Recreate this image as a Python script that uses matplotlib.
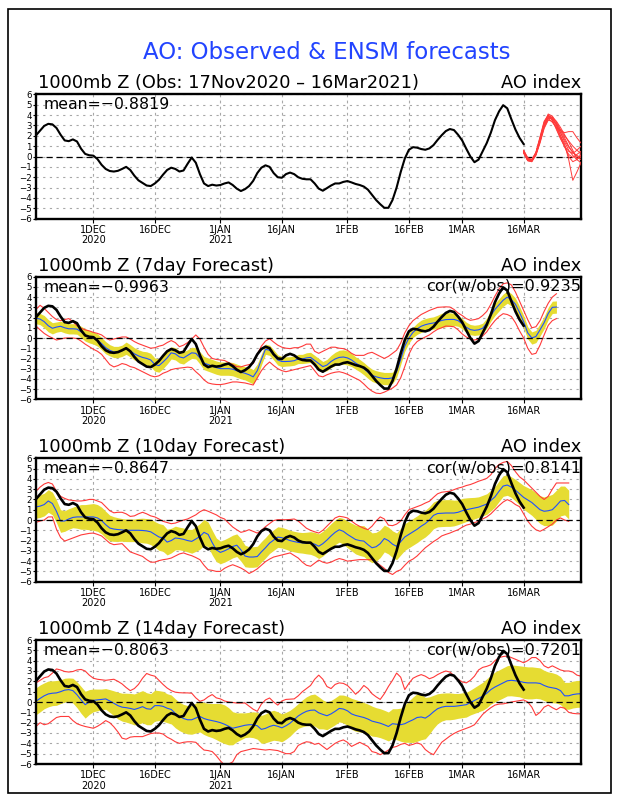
import numpy as np
import pandas as pd
import matplotlib
matplotlib.use('Agg')
import matplotlib.pyplot as plt
from matplotlib.patches import Rectangle

# ---------------- data ----------------
start_date = '2020-11-17'
end_date = '2021-03-30'
ens_start = '2021-03-16'

obs = [2.04, 2.5, 2.95, 3.15, 3.1, 2.75, 2.1, 1.55, 1.48, 1.65,
       1.45, 0.75, 0.25, 0.12, 0.08, -0.25, -0.8, -1.2, -1.4, -1.45,
       -1.38, -1.2, -1.0, -1.3, -1.85, -2.3, -2.55, -2.8, -2.85, -2.6,
       -2.25, -1.75, -1.3, -1.08, -1.2, -1.45, -1.35, -0.7, -0.1, -0.6,
       -1.7, -2.6, -2.85, -2.72, -2.8, -2.75, -2.6, -2.5, -2.75, -3.1,
       -3.33, -3.15, -2.85, -2.35, -1.6, -1.08, -0.85, -1.0, -1.6, -2.0,
       -2.05, -1.7, -1.55, -1.7, -2.0, -2.15, -2.2, -2.2, -2.6, -3.1,
       -3.3, -3.05, -2.8, -2.6, -2.6, -2.45, -2.37, -2.5, -2.65, -2.75,
       -2.9, -3.2, -3.7, -4.2, -4.6, -4.95, -4.95, -4.2, -3.0, -1.5,
       -0.2, 0.65, 0.9, 0.85, 0.72, 0.65, 0.78, 1.1, 1.6, 2.05,
       2.45, 2.65, 2.55, 2.1, 1.55, 0.75, 0.0, -0.55, -0.3, 0.5,
       1.3, 2.3, 3.5, 4.35, 4.95, 4.65, 3.6, 2.6, 1.8, 1.2]

ens_m1 = [0.5, -0.3, -0.4, 0.2, 1.5, 3.0, 4.0, 3.7, 3.0, 2.3, 1.6, 0.9, 0.4, 0.1, -0.1]
ens_m2 = [0.4, -0.4, -0.5, 0.3, 1.7, 3.2, 4.1, 3.9, 3.3, 2.6, 2.0, 1.5, 1.0, 0.6, 0.3]
ens_m3 = [0.6, -0.2, -0.3, 0.4, 1.8, 3.3, 3.9, 3.5, 2.7, 1.8, 0.9, 0.2, -0.1, 0.2, 0.5]
ens_m4 = [0.5, -0.3, -0.4, 0.2, 1.4, 2.8, 3.6, 3.8, 3.4, 2.8, 2.1, 1.4, 0.6, -0.3, -0.6]
ens_m5 = [0.3, -0.4, -0.5, 0.1, 1.3, 2.7, 3.5, 3.4, 2.8, 2.0, 1.2, -0.3, -2.3, -1.5, -0.6]
ens_m6 = [0.5, -0.2, -0.3, 0.3, 1.6, 3.0, 3.7, 3.3, 2.8, 2.5, 2.3, 2.4, 2.4, 1.8, 1.3]
ens_m7 = [0.4, -0.3, -0.4, 0.3, 1.7, 3.1, 3.8, 3.6, 3.1, 2.3, 1.4, 0.6, 0.1, -0.3, 0.1]
ens_m8 = [0.5, -0.3, -0.3, 0.4, 1.9, 3.4, 4.0, 3.5, 2.6, 1.7, 1.0, 0.5, 0.3, 0.6, 1.0]
ens_m9 = [0.6, -0.1, -0.3, 0.2, 1.5, 2.9, 3.7, 3.7, 3.2, 2.5, 1.8, 1.0, 0.4, 0.0, -0.3]
ens_m10 = [0.4, -0.4, -0.4, 0.3, 1.6, 3.1, 3.9, 3.8, 3.0, 2.0, 1.0, 0.0, -0.5, -0.3, 0.2]

fc7_mean = [1.95, 1.85, 1.6, 1.2, 0.95, 1.07, 1.15, 1.0, 0.9, 0.9,
            0.87, 0.6, 0.3, 0.12, 0.0, -0.2, -0.55, -0.95, -1.2, -1.37,
            -1.37, -1.25, -1.0, -1.25, -1.55, -1.75, -1.9, -2.0, -2.15, -2.6,
            -2.7, -2.35, -1.95, -1.45, -1.55, -1.85, -1.95, -1.7, -1.45, -1.5,
            -1.95, -2.45, -2.6, -2.75, -2.9, -3.0, -3.0, -3.0, -3.05, -3.2,
            -3.35, -3.45, -3.6, -3.8, -3.2, -2.1, -1.1, -1.2, -1.65, -2.15,
            -2.3, -2.3, -2.28, -2.22, -2.05, -2.05, -1.95, -1.9, -2.2, -2.5,
            -2.8, -2.65, -2.3, -2.05, -1.9, -1.86, -1.95, -2.15, -2.45, -2.7,
            -3.0, -3.35, -3.65, -3.8, -3.9, -3.97, -3.97, -3.9, -3.3, -2.1,
            -0.8, 0.0, 0.55, 0.9, 1.15, 1.3, 1.4, 1.47, 1.58, 1.72,
            1.8, 1.82, 1.82, 1.7, 1.4, 1.05, 0.82, 0.75, 0.8, 0.95,
            1.45, 2.2, 2.8, 3.25, 3.7, 4.0, 3.75, 3.3, 2.5, 1.6,
            0.5, 0.0, 0.15, 0.8, 1.5, 2.4, 3.0, 3.03]
fc7_spread = [0.55, 0.55, 0.6, 0.6, 0.55, 0.5, 0.5, 0.5, 0.5, 0.5,
              0.5, 0.55, 0.6, 0.6, 0.6, 0.6, 0.6, 0.6, 0.55, 0.55,
              0.55, 0.55, 0.6, 0.6, 0.6, 0.6, 0.6, 0.65, 0.65, 0.65,
              0.65, 0.65, 0.6, 0.6, 0.6, 0.6, 0.6, 0.55, 0.55, 0.55,
              0.6, 0.65, 0.65, 0.65, 0.65, 0.65, 0.65, 0.65, 0.65, 0.65,
              0.65, 0.65, 0.7, 0.7, 0.65, 0.55, 0.5, 0.5, 0.5, 0.5,
              0.5, 0.45, 0.45, 0.45, 0.45, 0.45, 0.5, 0.5, 0.5, 0.5,
              0.5, 0.55, 0.6, 0.65, 0.7, 0.7, 0.7, 0.65, 0.6, 0.6,
              0.6, 0.6, 0.6, 0.6, 0.6, 0.6, 0.6, 0.55, 0.55, 0.5,
              0.5, 0.5, 0.5, 0.55, 0.6, 0.6, 0.6, 0.6, 0.65, 0.7,
              0.7, 0.65, 0.6, 0.55, 0.5, 0.5, 0.5, 0.5, 0.5, 0.5,
              0.5, 0.55, 0.6, 0.6, 0.6, 0.6, 0.6, 0.6, 0.6, 0.6,
              0.6, 0.6, 0.6, 0.6, 0.6, 0.6, 0.6, 0.6]
fc7_max = [2.8, 3.2, 2.9, 2.5, 2.1, 1.8, 1.7, 1.8, 1.9, 1.6,
           1.2, 0.95, 0.8, 0.7, 0.55, 0.45, 0.3, 0.0, -0.2, -0.1,
           0.0, 0.1, 0.1, -0.1, -0.35, -0.55, -0.7, -0.85, -1.0, -0.95,
           -0.8, -0.7, -0.45, -0.25, -0.45, -0.85, -0.7, -0.45, -0.1, 0.3,
           -0.1, -0.9, -1.6, -2.0, -2.1, -2.15, -2.2, -2.4, -2.6, -2.8,
           -2.83, -2.7, -2.6, -2.5, -1.6, -0.8, -0.3, -0.07, -0.4, -0.7,
           -0.9, -1.0, -1.04, -0.95, -0.95, -0.8, -0.6, -0.6, -1.3, -1.5,
           -1.3, -1.1, -0.9, -0.9, -1.0, -1.04, -1.2, -1.5, -1.7, -1.7,
           -1.7, -1.5, -1.4, -1.6, -1.8, -2.0, -1.8, -1.5, -1.2, -0.5,
           0.5, 1.2, 1.7, 2.0, 2.3, 2.5, 2.7, 2.85, 3.0, 3.03,
           3.05, 3.03, 2.8, 2.45, 2.2, 1.9, 1.73, 1.8, 1.9, 2.2,
           2.6, 3.3, 4.1, 4.8, 5.3, 5.4, 5.2, 4.5, 3.6, 2.7,
           1.8, 1.0, 1.1, 1.7, 2.6, 3.4, 4.0, 4.33]
fc7_min = [1.17, 0.8, 0.45, 0.2, 0.0, -0.2, -0.1, 0.0, 0.0, 0.0,
           -0.05, -0.3, -0.6, -0.85, -1.1, -1.3, -1.6, -2.1, -2.6, -2.83,
           -2.7, -2.5, -2.6, -2.8, -2.9, -3.1, -3.3, -3.5, -3.7, -3.8,
           -3.7, -3.45, -3.3, -3.1, -3.0, -2.95, -2.9, -2.85, -2.9, -3.3,
           -3.65, -4.1, -4.4, -4.5, -4.55, -4.56, -4.5, -4.4, -4.3, -4.3,
           -4.35, -4.4, -4.5, -4.6, -3.9, -3.2, -2.7, -2.35, -2.7, -3.0,
           -3.2, -3.3, -3.2, -3.1, -3.0, -2.9, -2.8, -2.7, -3.2, -3.7,
           -3.8, -3.6, -3.45, -3.35, -3.3, -3.4, -3.55, -3.75, -3.95, -4.15,
           -4.5, -4.9, -5.2, -5.4, -5.44, -5.3, -5.1, -4.9, -4.6, -3.9,
           -2.8, -1.6, -0.8, -0.35, -0.1, 0.1, 0.3, 0.6, 0.85, 1.0,
           1.17, 1.15, 1.1, 0.8, 0.4, 0.1, -0.1, -0.2, -0.1, 0.2,
           0.6, 1.2, 1.7, 2.1, 2.38, 2.3, 2.1, 1.5, 0.7, 0.0,
           -1.0, -1.6, -1.5, -0.7, 0.3, 1.24, 1.7, 1.9]

fc10_mean = [1.27, 1.35, 1.5, 1.85, 1.6, 0.84, -0.1, -0.1, 0.1, 0.25,
             0.3, 0.3, 0.3, 0.3, 0.3, 0.2, -0.05, -0.45, -0.78, -0.88,
             -0.93, -0.96, -1.0, -1.0, -1.0, -1.0, -1.02, -1.06, -1.15, -1.4,
             -1.65, -1.75, -2.15, -2.0, -1.75, -1.8, -1.88, -2.0, -2.08, -1.85,
             -1.6, -1.2, -1.4, -2.2, -2.9, -3.15, -3.0, -2.8, -2.58, -2.45,
             -2.9, -3.5, -3.6, -3.6, -3.55, -3.1, -2.7, -2.25, -1.95, -1.66,
             -1.72, -1.85, -2.0, -2.1, -2.18, -2.22, -2.24, -2.24, -2.35, -2.55,
             -2.3, -1.95, -1.55, -1.2, -0.95, -1.1, -1.4, -1.65, -1.9, -2.0,
             -2.05, -2.4, -2.7, -2.6, -2.3, -1.8, -2.0, -2.35, -2.56, -2.1,
             -1.65, -1.4, -1.15, -0.9, -0.6, -0.35, 0.0, 0.45, 0.63, 0.66,
             0.68, 0.68, 0.68, 0.75, 0.9, 1.0, 1.08, 1.15, 1.25, 1.4,
             1.55, 1.9, 2.25, 2.8, 3.3, 3.4, 3.2, 2.9, 2.55, 2.2,
             1.95, 1.7, 1.35, 1.0, 0.85, 0.9, 1.0, 1.4, 1.85, 1.9,
             1.5]
fc10_spread = [1.1, 1.1, 1.1, 1.1, 1.1, 1.1, 1.1, 1.0, 1.0, 1.0,
               1.1, 1.2, 1.2, 1.25, 1.3, 1.3, 1.3, 1.3, 1.25, 1.2,
               1.15, 1.1, 1.1, 1.1, 1.1, 1.15, 1.2, 1.2, 1.25, 1.25,
               1.3, 1.3, 1.25, 1.2, 1.15, 1.1, 1.1, 1.1, 1.15, 1.2,
               1.25, 1.25, 1.2, 1.2, 1.15, 1.1, 1.1, 1.1, 1.1, 1.1,
               1.1, 1.05, 1.0, 1.0, 1.0, 1.0, 1.0, 1.0, 1.0, 1.0,
               1.0, 1.0, 1.0, 1.0, 1.0, 1.0, 1.05, 1.1, 1.15, 1.2,
               1.2, 1.2, 1.2, 1.2, 1.2, 1.25, 1.3, 1.35, 1.4, 1.45,
               1.5, 1.5, 1.45, 1.4, 1.35, 1.3, 1.3, 1.3, 1.3, 1.3,
               1.3, 1.3, 1.3, 1.3, 1.3, 1.3, 1.3, 1.3, 1.3, 1.3,
               1.3, 1.3, 1.25, 1.2, 1.2, 1.15, 1.1, 1.05, 1.0, 1.0,
               1.0, 1.0, 1.0, 1.0, 1.0, 1.0, 1.0, 1.05, 1.1, 1.15,
               1.2, 1.25, 1.3, 1.35, 1.4, 1.45, 1.5, 1.5, 1.45, 1.4,
               1.4]
fc10_max = [2.8, 3.2, 3.5, 3.65, 3.5, 2.8, 2.3, 2.1, 1.95, 1.9,
            1.85, 1.85, 1.9, 2.0, 2.0, 1.85, 1.7, 1.3, 0.9, 0.7,
            0.75, 0.75, 0.6, 0.35, 0.4, 0.6, 0.75, 0.6, 0.4, 0.3,
            0.1, -0.13, -0.25, -0.36, -0.3, -0.15, 0.0, 0.1, 0.3, 0.5,
            0.8, 1.0, 0.85, 0.68, 0.5, 0.25, 0.1, -0.3, -0.68, -0.95,
            -1.2, -1.1, -0.94, -1.1, -1.27, -1.0, -0.65, -0.35, -0.05, 0.03,
            0.03, 0.03, 0.05, 0.1, -0.1, -0.45, -0.8, -1.0, -1.15, -1.27,
            -1.0, -0.6, -0.2, 0.2, 0.36, 0.3, 0.2, -0.1, -0.4, -0.62,
            -0.8, -0.94, -0.6, -0.1, 0.3, 0.1, -0.5, -0.55, -0.4, -0.1,
            0.5, 1.0, 1.15, 1.3, 1.45, 1.65, 1.82, 2.2, 2.55, 2.7,
            2.75, 2.8, 2.95, 3.1, 3.2, 3.35, 3.45, 3.6, 3.77, 3.9,
            4.05, 4.4, 5.0, 5.4, 5.6, 5.7, 5.3, 4.7, 4.2, 3.9,
            3.5, 3.1, 2.7, 2.3, 2.0, 2.3, 3.0, 3.6, 3.6, 3.6,
            3.6]
fc10_min = [-0.23, -0.1, 0.0, 0.3, 0.3, -0.9, -1.7, -2.05, -1.9, -1.75,
            -1.6, -1.45, -1.38, -1.3, -1.27, -1.4, -1.55, -1.9, -2.25, -2.4,
            -2.35, -2.3, -2.7, -3.1, -3.25, -3.4, -3.54, -3.85, -4.1, -4.1,
            -3.95, -3.86, -3.8, -3.7, -3.5, -3.3, -3.2, -3.35, -3.47, -3.65,
            -3.86, -4.4, -4.84, -4.9, -5.0, -5.0, -4.7, -4.5, -4.35, -4.5,
            -4.67, -4.9, -5.2, -5.0, -4.75, -4.4, -4.05, -3.8, -3.6, -3.5,
            -3.4, -3.3, -3.2, -3.45, -3.7, -4.1, -4.4, -4.5, -4.2, -3.9,
            -4.1, -4.2, -4.1, -3.9, -3.75, -3.85, -4.0, -3.95, -3.9, -3.85,
            -3.86, -3.86, -3.86, -4.1, -4.4, -4.7, -5.1, -5.3, -5.0, -4.84,
            -4.4, -4.0, -3.8, -3.5, -3.1, -2.7, -2.4, -2.1, -1.85, -1.55,
            -1.4, -1.27, -1.1, -0.95, -0.7, -0.5, -0.4, -0.25, -0.13, 0.1,
            0.3, 0.6, 1.0, 1.4, 1.75, 1.98, 1.8, 1.5, 1.3, 0.6,
            -0.1, -0.6, -0.95, -1.1, -0.9, -0.65, -0.4, 0.0, 0.2, 0.0,
            -0.13]

fc14_mean = [0.07, 0.35, 0.6, 0.78, 0.85, 0.88, 1.0, 1.15, 1.2, 1.1,
             0.7, 0.2, -0.26, 0.0, 0.16, 0.2, 0.25, 0.3, 0.1, -0.12,
             -0.35, -0.5, -0.55, -0.62, -0.72, -0.6, -0.45, -0.65, -0.7, -0.35,
             -0.35, -0.42, -0.6, -0.72, -1.1, -1.4, -1.6, -1.72, -1.72, -1.55,
             -1.4, -1.6, -1.72, -1.8, -1.89, -2.0, -2.15, -2.35, -2.54, -2.45,
             -2.35, -2.25, -2.2, -2.2, -2.3, -2.65, -2.55, -2.37, -2.25, -2.35,
             -2.5, -2.3, -2.05, -1.7, -1.35, -1.1, -0.9, -0.8, -0.78, -1.05,
             -1.2, -1.33, -1.15, -0.9, -0.62, -0.68, -0.85, -1.15, -1.3, -1.4,
             -1.5, -1.65, -1.85, -1.95, -2.05, -2.2, -2.37, -2.1, -2.15, -2.2,
             -2.1, -1.9, -1.72, -1.5, -1.45, -1.56, -1.3, -0.95, -0.65, -0.5,
             -0.42, -0.42, -0.42, -0.38, -0.32, -0.26, -0.05, 0.15, 0.35, 0.55,
             0.85, 1.2, 1.45, 1.65, 1.85, 2.05, 2.1, 2.05, 2.0, 1.9,
             1.85, 1.85, 1.85, 1.8, 1.6, 1.45, 1.38, 1.3, 1.1, 0.6,
             0.6, 0.72, 0.78, 0.8]
fc14_spread = [1.3, 1.3, 1.25, 1.25, 1.2, 1.2, 1.15, 1.15, 1.13, 1.2,
               1.25, 1.3, 1.3, 1.2, 1.1, 1.05, 1.0, 1.0, 1.1, 1.2,
               1.3, 1.35, 1.4, 1.45, 1.5, 1.55, 1.55, 1.55, 1.5, 1.5,
               1.45, 1.45, 1.4, 1.4, 1.4, 1.37, 1.37, 1.37, 1.4, 1.45,
               1.5, 1.55, 1.6, 1.65, 1.75, 1.85, 1.87, 1.8, 1.6, 1.4,
               1.3, 1.2, 1.2, 1.25, 1.3, 1.35, 1.4, 1.45, 1.45, 1.4,
               1.35, 1.3, 1.25, 1.2, 1.2, 1.3, 1.4, 1.5, 1.55, 1.55,
               1.4, 1.35, 1.3, 1.3, 1.3, 1.35, 1.4, 1.5, 1.53, 1.5,
               1.45, 1.45, 1.45, 1.4, 1.4, 1.4, 1.4, 1.45, 1.5, 1.6,
               1.8, 2.0, 2.2, 2.3, 2.2, 2.0, 1.8, 1.6, 1.45, 1.35,
               1.3, 1.3, 1.25, 1.2, 1.2, 1.2, 1.2, 1.25, 1.3, 1.35,
               1.4, 1.4, 1.45, 1.45, 1.46, 1.46, 1.5, 1.5, 1.5, 1.55,
               1.55, 1.55, 1.5, 1.5, 1.46, 1.46, 1.45, 1.4, 1.35, 1.3,
               1.3, 1.3, 1.3, 1.3]
fc14_max = [1.85, 2.1, 2.35, 2.45, 2.8, 3.2, 3.1, 2.95, 2.9, 2.95,
            3.1, 3.15, 3.0, 2.6, 2.3, 2.2, 2.15, 2.1, 2.15, 2.2,
            2.0, 1.75, 1.4, 1.1, 1.3, 1.7, 2.3, 2.76, 2.6, 2.5,
            2.1, 1.7, 1.35, 1.1, 0.95, 0.9, 0.88, 0.88, 0.85, 0.4,
            0.07, 0.2, 0.5, 0.72, 0.4, 0.3, 0.1, 0.0, -0.05, -0.1,
            -0.1, -0.1, -0.4, -0.7, -0.9, -0.2, 0.2, 0.39, 0.0, -0.3,
            0.1, 0.25, 0.28, 0.3, 0.6, 1.0, 1.3, 1.6, 2.2, 2.6,
            2.2, 1.5, 1.3, 1.7, 1.85, 1.8, 1.6, 1.2, 0.75, 1.1,
            1.6, 1.3, 0.8, 0.5, 0.25, 0.8, 1.5, 2.1, 2.8, 2.4,
            1.2, 1.8, 2.3, 2.5, 2.65, 2.5, 2.25, 2.4, 2.65, 2.85,
            3.0, 2.9, 2.55, 2.2, 1.95, 1.85, 2.1, 2.5, 3.1, 3.35,
            3.45, 3.6, 4.0, 4.3, 4.4, 4.45, 4.3, 4.13, 3.95, 3.8,
            4.0, 4.3, 4.3, 4.0, 3.5, 3.3, 3.5, 3.3, 3.1, 3.0,
            3.0, 2.9, 2.6, 2.5]
fc14_min = [-2.37, -2.0, -2.2, -2.1, -1.8, -1.5, -1.4, -1.4, -1.4, -1.8,
            -2.1, -2.25, -2.37, -2.45, -2.54, -2.35, -2.1, -1.8, -2.0, -2.4,
            -2.9, -3.5, -3.6, -3.4, -3.35, -3.35, -3.35, -3.2, -3.05, -3.0,
            -3.0, -3.1, -3.4, -3.6, -3.85, -4.0, -3.9, -3.85, -3.85, -3.9,
            -4.3, -4.65, -4.7, -4.8, -5.2, -5.7, -6.1, -6.0, -5.8, -5.1,
            -4.8, -4.7, -4.6, -4.5, -4.55, -4.6, -4.65, -4.6, -4.65, -4.7,
            -4.85, -5.0, -5.0, -4.8, -4.2, -4.0, -3.85, -3.9, -4.1, -4.0,
            -4.3, -4.6, -4.3, -4.0, -3.8, -3.67, -3.9, -4.3, -4.1, -3.9,
            -4.1, -4.3, -4.8, -4.9, -5.1, -4.9, -4.65, -4.4, -4.3, -4.1,
            -4.0, -4.2, -4.1, -3.95, -4.1, -4.6, -4.9, -5.1, -4.5, -3.9,
            -3.6, -3.3, -3.05, -2.85, -2.7, -2.54, -2.4, -2.2, -1.7, -1.2,
            -0.85, -0.55, -0.3, -0.2, -0.18, -0.1, 0.0, 0.07, 0.15, 0.2,
            0.0, -0.5, -1.3, -1.0, -0.5, -0.3, -0.55, -0.75, -0.5, -0.6,
            -1.0, -1.1, -1.14, -1.14]

panel_titles = ['1000mb Z (Obs: 17Nov2020 \u2013 16Mar2021)',
                '1000mb Z (7day Forecast)',
                '1000mb Z (10day Forecast)',
                '1000mb Z (14day Forecast)']
mean_labels = ['mean=\u22120.8819', 'mean=\u22120.9963', 'mean=\u22120.8647', 'mean=\u22120.8063']
cor_labels = [None, 'cor(w/obs)=0.9235', 'cor(w/obs)=0.8141', 'cor(w/obs)=0.7201']
right_label = 'AO index'
main_title = 'AO: Observed & ENSM forecasts'
ytick_vals = list(range(-6, 7))
xtick_dates = ['2020-12-01', '2020-12-16', '2021-01-01', '2021-01-16',
               '2021-02-01', '2021-02-16', '2021-03-01', '2021-03-16']
xtick_labels = ['1DEC\n2020', '16DEC', '1JAN\n2021', '16JAN',
                '1FEB', '16FEB', '1MAR', '16MAR']

# ---------------- styling ----------------
W, H = 618, 800
DPI = 100
BLUE_TITLE = '#2244ff'
YELLOW = '#e6dc32'
RED = '#ff3a3a'
MEAN_BLUE = '#1f4fff'
GRID = '#a8a8a8'
FONT = 'DejaVu Sans'

def dates(n, start=start_date):
    return pd.date_range(start, periods=n, freq='D')

fig = plt.figure(figsize=(W / DPI, H / DPI), dpi=DPI)
fig.patch.set_facecolor('white')
fig.add_artist(Rectangle((8 / W, 1 - 793 / H), (611 - 8) / W, (793 - 9) / H,
                         transform=fig.transFigure, fill=False, lw=1.2, ec='black'))

fig.text(327 / W, 1 - 52.5 / H, main_title, color=BLUE_TITLE, fontsize=16.5,
         ha='center', va='center', family=FONT)

# axes pixel boxes: (top, bottom)
boxes = [(94.3, 218.7), (276.7, 399.3), (458.3, 581.7), (640.0, 764.0)]
left_px, right_px = 36.0, 581.0

xt = pd.to_datetime(xtick_dates)

def style(ax, idx):
    ax.set_xlim(pd.Timestamp(start_date), pd.Timestamp(end_date))
    ax.set_ylim(-6, 6)
    for v in ytick_vals:
        ax.axhline(v, color=GRID, lw=0.8, ls=(0, (2, 4)), zorder=0.5)
    for d in xt:
        ax.axvline(d, color=GRID, lw=0.8, ls=(0, (2.5, 3)), zorder=0.5)
    ax.axhline(0, color='black', lw=0.9, ls=(0, (5, 3)), zorder=3)
    ax.set_yticks(ytick_vals)
    ax.set_yticklabels([str(v).replace('-', '\u2212') for v in ytick_vals],
                       fontsize=6.2, family=FONT)
    ax.set_xticks(xt)
    ax.set_xticklabels(xtick_labels, fontsize=7, family=FONT, linespacing=1.05)
    ax.tick_params(axis='y', direction='out', length=2, width=0.8, pad=1)
    ax.tick_params(axis='x', direction='out', length=3, width=0.8, pad=1.5)
    for sp in ax.spines.values():
        sp.set_linewidth(1.7)
    ax.annotate(panel_titles[idx], xy=(0, 1), xycoords='axes fraction',
                xytext=(1.5, 8), textcoords='offset points', fontsize=12.8,
                ha='left', va='center', family=FONT)
    ax.annotate(right_label, xy=(1, 1), xycoords='axes fraction',
                xytext=(0, 8), textcoords='offset points', fontsize=12.8,
                ha='right', va='center', family=FONT)
    ax.annotate(mean_labels[idx], xy=(0, 1), xycoords='axes fraction',
                xytext=(5.5, -7.5), textcoords='offset points', fontsize=11.3,
                ha='left', va='center', family=FONT, zorder=6)
    if cor_labels[idx]:
        ax.annotate(cor_labels[idx], xy=(1, 1), xycoords='axes fraction',
                    xytext=(0, -7), textcoords='offset points', fontsize=11.6,
                    ha='right', va='center', family=FONT, zorder=6)

axes = []
for i, (top, bot) in enumerate(boxes):
    ax = fig.add_axes([left_px / W, 1 - bot / H, (right_px - left_px) / W, (bot - top) / H])
    axes.append(ax)

# panel 1: observations + ensemble members
ax = axes[0]
style(ax, 0)
ax.plot(dates(len(obs)), obs, color='black', lw=1.5, zorder=5)
for m in [ens_m1, ens_m2, ens_m3, ens_m4, ens_m5, ens_m6, ens_m7, ens_m8, ens_m9, ens_m10]:
    ax.plot(dates(len(m), ens_start), m, color=RED, lw=0.7, zorder=4)

# forecast panels
fcs = [(fc7_mean, fc7_spread, fc7_min, fc7_max),
       (fc10_mean, fc10_spread, fc10_min, fc10_max),
       (fc14_mean, fc14_spread, fc14_min, fc14_max)]
for k, (mn, sp, lo, hi) in enumerate(fcs):
    ax = axes[k + 1]
    style(ax, k + 1)
    mn = np.asarray(mn); sp = np.asarray(sp)
    x = dates(len(mn))
    ax.fill_between(x, mn - sp, mn + sp, color=YELLOW, lw=0, zorder=1)
    ax.plot(dates(len(lo)), lo, color=RED, lw=0.8, zorder=2)
    ax.plot(dates(len(hi)), hi, color=RED, lw=0.8, zorder=2)
    ax.plot(x, mn, color=MEAN_BLUE, lw=0.8, zorder=2.5)
    ax.plot(dates(len(obs)), obs, color='black', lw=1.9, zorder=5)

fig.savefig('out.png', dpi=DPI, facecolor='white')
